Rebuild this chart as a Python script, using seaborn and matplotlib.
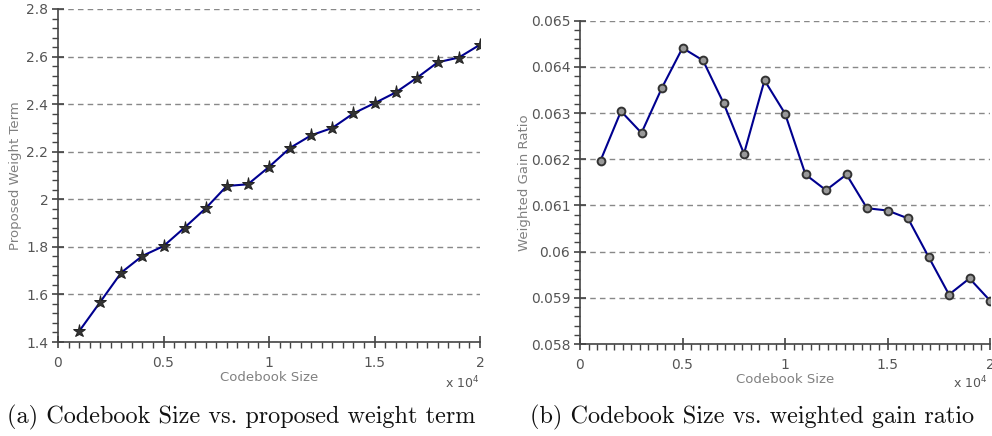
import matplotlib
matplotlib.use("Agg")
import matplotlib.pyplot as plt
from matplotlib.ticker import AutoMinorLocator
import seaborn as sns
import pandas as pd

# ---- data ----
codebook_size = [1000, 2000, 3000, 4000, 5000, 6000, 7000, 8000, 9000, 10000,
                 11000, 12000, 13000, 14000, 15000, 16000, 17000, 18000, 19000, 20000]
weight_term = [1.445, 1.568, 1.692, 1.762, 1.803, 1.881, 1.962, 2.056, 2.063, 2.136,
               2.216, 2.269, 2.300, 2.361, 2.404, 2.449, 2.510, 2.576, 2.596, 2.650]
gain_ratio = [0.06197, 0.06304, 0.06257, 0.06355, 0.06441, 0.06414, 0.06322, 0.06212,
              0.06371, 0.06299, 0.06167, 0.06133, 0.06167, 0.06094, 0.06089, 0.06072,
              0.05989, 0.05907, 0.05942, 0.05894]
x_ticks = [0, 5000, 10000, 15000, 20000]
x_tick_labels = ["0", "0.5", "1", "1.5", "2"]
y1_ticks = [1.4, 1.6, 1.8, 2.0, 2.2, 2.4, 2.6, 2.8]
y1_tick_labels = ["1.4", "1.6", "1.8", "2", "2.2", "2.4", "2.6", "2.8"]
y2_ticks = [0.058, 0.059, 0.060, 0.061, 0.062, 0.063, 0.064, 0.065]
y2_tick_labels = ["0.058", "0.059", "0.06", "0.061", "0.062", "0.063", "0.064", "0.065"]
x_label = "Codebook Size"
y1_label = "Proposed Weight Term"
y2_label = "Weighted Gain Ratio"
caption_a = "(a) Codebook Size vs. proposed weight term"
caption_b = "(b) Codebook Size vs. weighted gain ratio"

df = pd.DataFrame({"size": codebook_size, "wt": weight_term, "gr": gain_ratio})

sns.set_style("white")
plt.rcParams["font.family"] = ["DejaVu Sans"]

fig = plt.figure(figsize=(9.92, 4.36), dpi=100)
W, H = 992.0, 436.0

def ax_rect(x0, y0, x1, y1):
    return [x0 / W, 1 - y1 / H, (x1 - x0) / W, (y1 - y0) / H]

ax1 = fig.add_axes(ax_rect(58, 9, 480, 342))
ax2 = fig.add_axes(ax_rect(580, 20.7, 990, 344))

line_color = "#00008f"
tick_color = "#555555"
label_color = "#808080"

sns.lineplot(data=df, x="size", y="wt", ax=ax1, color=line_color, lw=1.5,
             marker="*", markersize=9.5, markerfacecolor="#333333",
             markeredgecolor="#222222", markeredgewidth=0.7)
sns.lineplot(data=df, x="size", y="gr", ax=ax2, color=line_color, lw=1.5,
             marker="o", markersize=5.6, markerfacecolor="#999999",
             markeredgecolor="#333333", markeredgewidth=1.4)

def style(ax, yticks, ylabels, ylim, ylabel, xminor, ylabx):
    ax.set_xlim(0, 20000)
    ax.set_ylim(*ylim)
    ax.set_xticks(x_ticks)
    ax.set_xticklabels(x_tick_labels)
    ax.set_yticks(yticks)
    ax.set_yticklabels(ylabels)
    ax.xaxis.set_minor_locator(AutoMinorLocator(xminor))
    ax.yaxis.set_minor_locator(AutoMinorLocator(5))
    ax.tick_params(axis="both", which="both", bottom=True, left=True, top=False, right=False)
    ax.tick_params(axis="both", which="major", direction="inout", length=8, width=1.2,
                   color="#444444", labelcolor=tick_color, labelsize=10, pad=3)
    ax.tick_params(axis="both", which="minor", direction="out", length=4, width=1.0,
                   color="#444444")
    ax.tick_params(axis="x", which="major", pad=6)
    for s in ["top", "right"]:
        ax.spines[s].set_visible(False)
    for s in ["left", "bottom"]:
        ax.spines[s].set_color("#444444")
        ax.spines[s].set_linewidth(1.2)
    ax.grid(axis="y", which="major", linestyle=(0, (4, 3)), color="#888888", lw=1.0)
    ax.grid(axis="x", visible=False)
    ax.set_axisbelow(True)
    ax.set_xlabel(x_label, color=label_color, fontsize=9.5, labelpad=1)
    ax.set_ylabel(ylabel, color=label_color, fontsize=9.5)
    ax.yaxis.set_label_coords(ylabx, 0.5)

style(ax1, y1_ticks, y1_tick_labels, (1.4, 2.8), y1_label, 10, -0.086)
style(ax2, y2_ticks, y2_tick_labels, (0.058, 0.065), y2_label, 12, -0.12)

fig.text(462 / W, 1 - 383 / H, r"x 10$^4$", color=tick_color, fontsize=9,
         ha="center", va="center")
fig.text(970 / W, 1 - 383 / H, r"x 10$^4$", color=tick_color, fontsize=9,
         ha="center", va="center")

cap_font = dict(family=["cmr10", "DejaVu Serif"], fontsize=17.5, color="#111111",
                ha="center", va="center")
fig.text(241 / W, 1 - 417 / H, caption_a, **cap_font)
fig.text(752 / W, 1 - 417 / H, caption_b, **cap_font)

fig.savefig("out.png", dpi=100)
